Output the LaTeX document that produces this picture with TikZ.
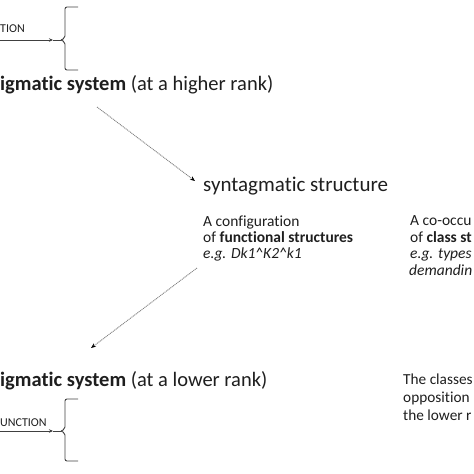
\documentclass[tikz,border=0pt]{standalone}
\usepackage{fontspec}
\setmainfont{Carlito}[Ligatures=NoCommon]
\usetikzlibrary{arrows.meta}
\definecolor{txt}{HTML}{1E1E1E}
\definecolor{ln}{HTML}{404040}
\begin{document}
\begin{tikzpicture}[x=1pt,y=-1pt,
  big/.style={anchor=base west,inner sep=0pt,font=\fontsize{20.5}{24}\selectfont,text=txt},
  small/.style={anchor=base west,inner sep=0pt,font=\fontsize{15.5}{17}\selectfont,text=txt,align=left},
  lbl/.style={anchor=base west,inner sep=0pt,font=\fontsize{12}{14}\selectfont,text=txt},
  brace/.style={draw=ln,line width=0.9pt,rounded corners=2pt},
  fnarrow/.style={draw=ln,line width=0.9pt,-{Stealth[length=4pt,width=3.5pt]}},
  dotarrow/.style={draw=gray,line width=0.9pt,dash pattern=on 1pt off 0.8pt,-{Stealth[length=5pt,width=4pt,color=black]}}
  ]
\useasboundingbox (0,0) rectangle (474,474);
\clip (0,0) rectangle (474,474);
% top
\node[lbl] (ftop) at (0,32) {TION};
\coordinate (fs1) at (0,40);
\coordinate (ft1) at (53,40);
\coordinate (bt1) at (61,40);
\draw[fnarrow] (fs1) -- (ft1);
\draw[ln,line width=0.9pt] (ft1) -- (bt1);
\draw[brace] (78,7) -- (65,7) -- (65,38) -- (bt1);
\draw[brace] (bt1) -- (65,42) -- (65,70) -- (78,70);
\node[big] (psys1) at (0,90) {\textbf{igmatic system} (at a higher rank)};
% middle
\node[big,font=\fontsize{21}{24}\selectfont] (sstruct) at (203,191) {syntagmatic structure};
\node[small] (conf) at (203,226) {A configuration};
\node[small] (conf2) at (203,242) {of \textbf{functional structures}};
\node[small] (conf3) at (203,258) {\textit{e.g. Dk1\^{}K2\^{}k1}};
\node[small] (co1) at (410,225) {A co-occu};
\node[small] (co2) at (410,242) {of \textbf{class st}};
\node[small] (co3) at (410,258) {\textit{e.g. types}};
\node[small] (co4) at (409,275) {\textit{demandin}};
\coordinate (a1s) at (97,107);
\coordinate (a1e) at (195,181);
\draw[dotarrow] (a1s) -- (a1e);
\coordinate (a2s) at (197,268);
\coordinate (a2e) at (91,348);
\draw[dotarrow] (a2s) -- (a2e);
% bottom
\node[big] (psys2) at (0,386) {\textbf{igmatic system} (at a lower rank)};
\node[small,font=\fontsize{15.3}{17}\selectfont] (cl1) at (403,384) {The classes};
\node[small,font=\fontsize{15.3}{17}\selectfont] (cl2) at (403,402) {opposition};
\node[small,font=\fontsize{15.3}{17}\selectfont] (cl3) at (403,420) {the lower r};
\node[lbl] (fbot) at (0,426) {UNCTION};
\coordinate (fs2) at (0,431);
\coordinate (ft2) at (53,431);
\coordinate (bt2) at (61,431);
\draw[fnarrow] (fs2) -- (ft2);
\draw[ln,line width=0.9pt] (ft2) -- (bt2);
\draw[brace] (78,399) -- (65,399) -- (65,429) -- (bt2);
\draw[brace] (bt2) -- (65,433) -- (65,461) -- (78,461);
\end{tikzpicture}
\end{document}
